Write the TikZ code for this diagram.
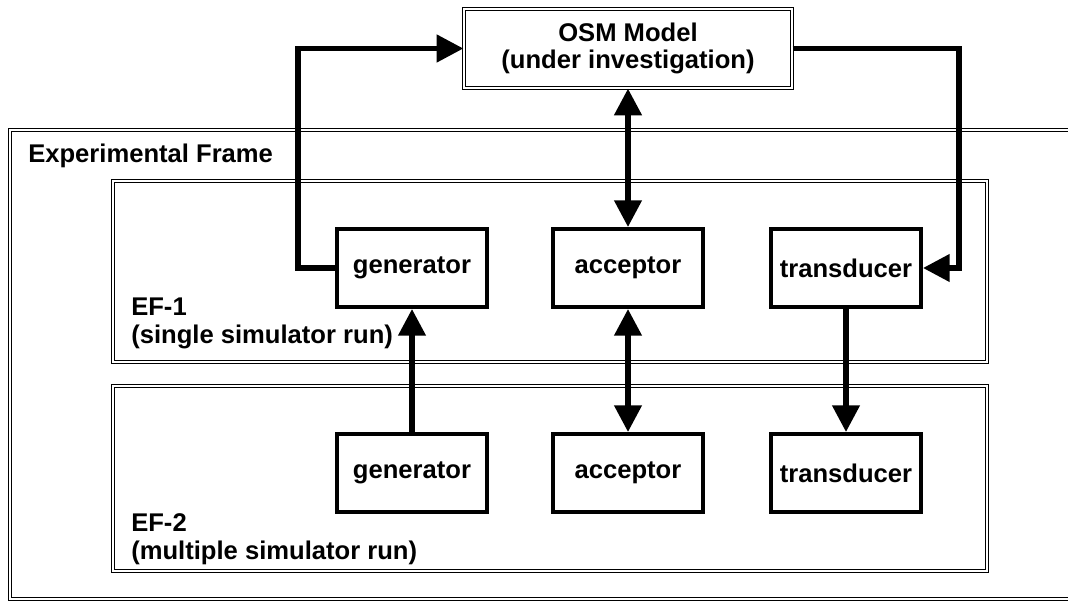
\documentclass[tikz,border=0pt]{standalone}
\usepackage{fontspec}
\setmainfont{Liberation Sans}
\usetikzlibrary{arrows.meta}
\tikzset{
  dframe/.style={draw=black, line width=0.9pt, double=white, double distance=1.2pt},
  blk/.style={draw=black, line width=3pt, fill=white, minimum width=112.5pt, minimum height=58.5pt, inner sep=0pt, font=\fontsize{19.2}{22}\selectfont\bfseries},
  osmbox/.style={dframe, fill=white, minimum width=246pt, minimum height=59.25pt, inner sep=0pt, align=center, font=\fontsize{19.2}{20}\selectfont\bfseries},
  lbl/.style={anchor=west, inner sep=0pt, align=left, font=\fontsize{19.2}{21}\selectfont\bfseries},
  arr/.style={line width=4pt, -{Triangle[length=20pt,width=20pt]}},
  darr/.style={line width=4pt, {Triangle[length=20pt,width=20pt]}-{Triangle[length=20pt,width=20pt]}}
}
\begin{document}
\begin{tikzpicture}[x=0.75pt,y=-0.75pt]
\clip (0,0) rectangle (1068,602);
\fill[white] (0,0) rectangle (1068,602);
% frames
\draw[dframe] (10,130) rectangle (1085,599);
\node[lbl] (eftitle) at (28,156) {Experimental Frame};
\draw[dframe] (113,181) rectangle (987,362);
\draw[dframe] (113,386) rectangle (987,571);
\node[lbl] (ef1) at (131,323) {EF-1\\(single simulator run)};
\node[lbl] (ef2) at (131,539) {EF-2\\(multiple simulator run)};
% model
\node[osmbox] (osm) at (628,48.5) {OSM Model\\(under investigation)};
% blocks
\node[blk] (gen1) at (412,268) {generator};
\node[blk] (acc1) at (628,268) {acceptor};
\node[blk] (tra1) at (846,268) {transducer};
\node[blk] (gen2) at (412,473) {generator};
\node[blk] (acc2) at (628,473) {acceptor};
\node[blk] (tra2) at (846,473) {transducer};
% connectors
\coordinate (c1) at (298,268);
\coordinate (c2) at (959,48.5);
\draw[arr] (gen1.west) -- (c1) |- (osm.west);
\draw[arr] (osm.east) -- (c2) |- (tra1.east);
\draw[darr] (acc1.north |- osm.south) -- (acc1.north);
\draw[darr] (acc1.south) -- (acc2.north);
\draw[arr] (gen2.north) -- (gen1.south);
\draw[arr] (tra1.south) -- (tra2.north);
\end{tikzpicture}
\end{document}
